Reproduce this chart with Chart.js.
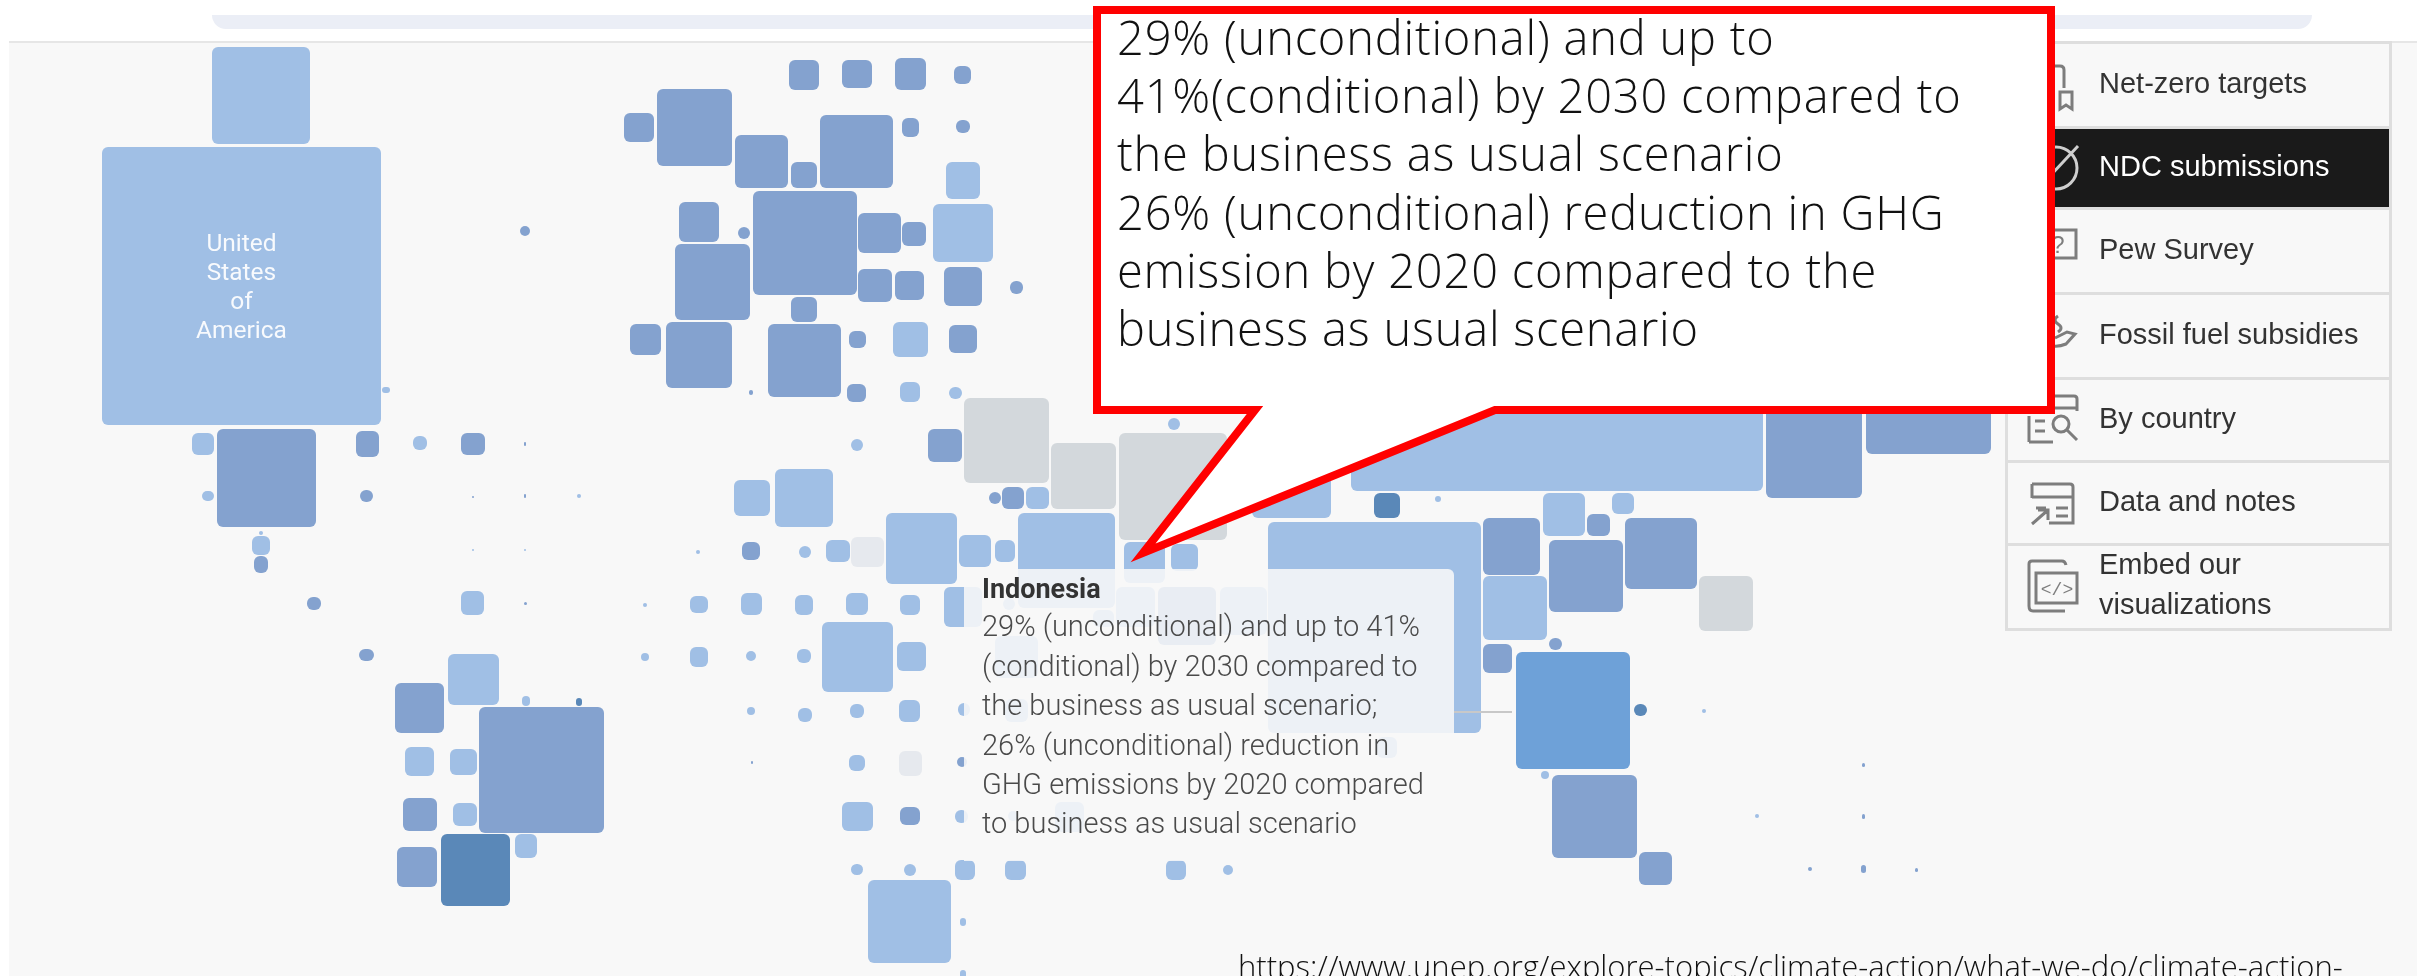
<!DOCTYPE html>
<html>
<head>
<meta charset="utf-8">
<title>NDC submissions</title>
<script src="https://cdn.jsdelivr.net/npm/chart.js@4"></script>
<style>
  html, body { margin: 0; padding: 0; background: #fff; }
  #page { position: relative; width: 2417px; height: 976px; overflow: hidden; background: #fff; }
  #panel { position: absolute; left: 9px; top: 41px; width: 2408px; height: 935px; background: #f8f8f8; border-top: 2px solid #e6e6e6; box-sizing: border-box; }
  #searchbar { position: absolute; left: 212px; top: 15px; width: 2100px; height: 14px; background: #ebeef6; border-radius: 0 0 30px 30px; }
  #map { position: absolute; left: 0; top: 0; }
  .us-label { position: absolute; left: 102px; top: 228px; width: 279px; text-align: center; font: 24.5px/29px Roboto, sans-serif; color: rgba(255,255,255,.92); }
  #tooltip { position: absolute; left: 964px; top: 569px; width: 490px; height: 292px; background: rgba(248,248,248,.87); border-radius: 0 6px 0 0; }
  #tooltip-line { position: absolute; left: 1454px; top: 711px; width: 58px; height: 2px; background: #c8c8c8; }
  #tooltip-text { position: absolute; left: 982px; top: 567px; width: 470px; font: 300 29px/39.4px Roboto, sans-serif; color: #4a4a4a; }
  #tooltip-text b { position: relative; top: 2px; font-weight: 700; color: #333; font-size: 27px; }
  .menu-row { position: absolute; left: 2005px; width: 387px; box-sizing: border-box; border: 3px solid #dedede; border-top-width: 3px; }
  .menu-text { position: absolute; left: 2099px; font: 29px/40px "Liberation Sans", Arial, sans-serif; color: #333; white-space: nowrap; }
  #icons { position: absolute; left: 0; top: 0; }
  #callout { position: absolute; left: 0; top: 0; }
  #callout-text { position: absolute; left: 1117px; top: 8px; font: 300 47px/58.2px "Open Sans", sans-serif; letter-spacing: .8px; color: #111; white-space: nowrap; }
  #source { position: absolute; left: 1238px; top: 944px; font: 300 31px/44px "Open Sans", sans-serif; color: #111; white-space: nowrap; }
</style>
</head>
<body>
<div id="page">
  <div id="searchbar"></div>
  <div id="panel"></div>
  <canvas id="map" width="2417" height="976"></canvas>
  <div class="us-label">United<br>States<br>of<br>America</div>

  <div id="menu"></div>
  <svg id="icons" width="2417" height="976" fill="none" stroke="#7d7d7d" stroke-width="3">
    <path d="M2040 66h20q4 0 4 4v18M2050 90h-10"/>
    <path d="M2060 92h12v17l-6-4-6 4z"/>
    <circle cx="2056" cy="168" r="21" stroke="#cfcfcf"/>
    <path d="M2050 176L2078 146" stroke="#cfcfcf"/>
    <path d="M2040 230h36v28h-28l-8 6z"/>
    <text x="2058" y="253" font-family="Liberation Sans" font-size="24" fill="#7d7d7d" stroke="none" text-anchor="middle">?</text>
    <path d="M2040 340q12 10 26 4l9-10-8-2-12 6M2058 316q-6 4 0 8t0 8"/>
    <path d="M2029 442V416M2029 442h24M2036 396h38q3 0 3 3v12M2029 408h48M2035 421h10M2035 431h10"/>
    <circle cx="2061" cy="424" r="8"/>
    <path d="M2067 430l10 10"/>
    <path d="M2032 484h38q3 0 3 3v36h-24M2032 484v14M2032 497h41M2036 508h10M2056 508h12M2056 516h12M2032 524l16-14M2038 510h10v10"/>
    <path d="M2029 606V564q0-3 3-3h30q3 0 4 4M2029 606q0 5 4 5h32"/>
    <rect x="2036" y="573" width="41" height="30"/>
    <text x="2057" y="595" font-family="Liberation Mono" font-size="18" fill="#7d7d7d" stroke="none" text-anchor="middle">&lt;/&gt;</text>
  </svg>

  <div id="tooltip"></div>
  <div id="tooltip-line"></div>
  <div id="tooltip-text"><b>Indonesia</b><br>29% (unconditional) and up to 41%<br>(conditional) by 2030 compared to<br>the business as usual scenario;<br>26% (unconditional) reduction in<br>GHG emissions by 2020 compared<br>to business as usual scenario</div>

  <svg id="callout" width="2417" height="976">
    <path d="M1097 10H2051V410H1495L1143 553L1255 410H1097Z" fill="#fff" stroke="#ff0000" stroke-width="8" stroke-miterlimit="10"/>
  </svg>
  <div id="callout-text">29% (unconditional) and up to<br>41%(conditional) by 2030 compared to<br>the business as usual scenario<br>26% (unconditional) reduction in GHG<br>emission by 2020 compared to the<br>business as usual scenario</div>
  <div id="source">https://www.unep.org/explore-topics/climate-action/what-we-do/climate-action-</div>
</div>

<script>
// each box: left, right, top, bottom in cartogram units
let lightBoxes = [
  [212,310,47,144], [102,381,147,425], [382,390,387,393], [192,214,433,455], [413,427,436,450],
  [202,214,491,501], [577,581,494,498], [259,263,531,535], [252,270,536,555], [472,474,549,551],
  [524,526,549,551], [461,484,591,615], [448,499,654,705], [522,530,696,706], [405,434,747,776],
  [450,477,749,775], [453,477,803,826], [515,537,834,858],
  [946,980,162,199], [933,993,204,262], [893,928,322,357], [900,920,382,402], [949,962,387,399],
  [851,863,439,451], [734,770,480,516], [775,833,469,527], [1026,1049,487,509], [1168,1180,418,430],
  [886,957,513,584], [959,991,535,567], [995,1015,540,562], [1018,1115,513,608], [1124,1165,542,583],
  [1171,1198,544,571], [1252,1331,439,518], [1351,1763,79,491], [696,700,550,554], [799,811,546,558],
  [826,850,540,562], [643,647,603,607], [690,708,596,613], [741,762,593,615], [795,813,595,615],
  [846,868,593,615], [900,920,595,615], [944,982,587,627], [641,649,653,661], [690,708,647,667],
  [746,756,651,661], [797,811,649,663], [822,893,622,692], [897,926,642,671], [747,755,707,715],
  [798,812,708,722], [850,864,704,718], [899,920,700,722], [958,970,703,716], [849,865,755,771],
  [842,873,802,831], [955,968,810,823], [851,863,864,875], [904,916,864,876], [955,975,860,880],
  [1005,1026,860,880], [1166,1186,860,880], [1223,1233,865,875], [868,951,880,963], [960,966,918,926],
  [960,966,970,980], [1116,1155,587,627], [1220,1267,587,635], [995,1038,636,678], [1093,1114,610,627],
  [1003,1015,598,610], [1005,1028,699,722], [1055,1084,802,832], [1008,1018,811,821], [1377,1397,737,758],
  [1268,1481,522,733], [1435,1441,496,502], [1543,1585,493,536], [1612,1634,493,514], [1483,1547,576,640],
  [1541,1549,771,779], [1702,1706,709,713], [1755,1759,814,818]
];
let mediumBoxes = [
  [217,316,429,527], [356,379,431,457], [461,485,433,455], [520,530,226,236], [524,526,442,446],
  [360,373,490,502], [472,474,496,498], [524,526,494,498], [254,268,556,573], [307,321,597,610],
  [524,527,602,605], [359,374,649,661], [395,444,683,733], [479,604,707,833], [403,437,798,831], [397,437,847,887],
  [789,819,60,90], [842,872,60,88], [895,926,58,90], [954,971,66,84], [657,732,89,166], [624,654,113,142],
  [735,788,135,188], [791,817,162,188], [820,893,115,188], [902,919,118,137], [956,970,120,133],
  [679,719,202,242], [738,750,227,239], [753,857,191,295], [858,901,213,253], [902,926,222,246],
  [675,750,244,320], [858,892,269,302], [895,924,271,300], [944,982,267,306], [1010,1023,281,294],
  [791,817,297,322], [630,661,324,355], [666,732,322,388], [768,841,324,397], [849,866,331,348],
  [949,977,325,353], [749,753,390,395], [847,866,384,402], [928,962,429,462], [989,1001,492,504],
  [1002,1024,487,509], [742,760,542,560], [751,753,761,764], [957,967,757,767], [900,920,807,825],
  [1158,1216,587,645], [1766,1862,402,498], [1866,1991,329,454], [1587,1610,514,536], [1483,1540,518,575],
  [1625,1697,518,589], [1549,1623,540,612], [1483,1512,644,673], [1549,1562,638,650], [1552,1637,775,858],
  [1639,1672,852,885], [1862,1865,763,767], [1862,1865,814,819], [1808,1812,867,871], [1861,1866,865,873],
  [1915,1918,868,872]
];
let darkBoxes = [
  [576,582,698,706], [441,510,834,906], [1374,1400,493,518], [1634,1647,704,716]
];
let brightBoxes = [
  [1516,1630,652,769]
];
let greyBoxes = [
  [964,1049,398,483], [1051,1116,443,509], [1119,1227,433,540], [1699,1753,576,631]
];
let paleBoxes = [
  [851,884,537,567], [899,922,751,776]
];

let menuLabels = ['Net-zero targets', 'NDC submissions', 'Pew Survey', 'Fossil fuel subsidies', 'By country', 'Data and notes'];
let menuRows = [41, 126, 207, 292, 377, 460, 543];

function renderMenu(){
  let html = '';
  for (let i = 0; i < menuRows.length - 1; i++) {
    let top = menuRows[i];
    let height = menuRows[i + 1] - top + 3;
    let active = i == 1;
    html += `<div class="menu-row" style="top:${top}px;height:${height}px;${active ? 'background:#1a1a1a;' : ''}"></div>`;
    html += `<div class="menu-text" style="top:${top + height / 2 - 22}px;${active ? 'color:#fff;' : ''}">${menuLabels[i]}</div>`;
  }
  html += `<div class="menu-row" style="top:543px;height:88px;"></div>`;
  html += `<div class="menu-text" style="top:544px;">Embed our</div>`;
  html += `<div class="menu-text" style="top:584px;">visualizations</div>`;
  document.getElementById('menu').innerHTML = html;
}

function makeTile(width, height, color){
  let tile = document.createElement('canvas');
  tile.width = Math.max(2, Math.round(width));
  tile.height = Math.max(2, Math.round(height));
  let ctx = tile.getContext('2d');
  ctx.fillStyle = color;
  ctx.beginPath();
  ctx.roundRect(0, 0, tile.width, tile.height, Math.min(6, Math.min(tile.width, tile.height) / 2));
  ctx.fill();
  return tile;
}

function boxDataset(boxes, color){
  return {
    data: boxes.map(b => ({ x: (b[0] + b[1]) / 2, y: (b[2] + b[3]) / 2, w: b[1] - b[0], h: b[3] - b[2] })),
    pointStyle: function(context){
      let raw = context.raw;
      if (!raw) return 'rect';
      let xScale = context.chart.scales.x;
      let yScale = context.chart.scales.y;
      let width = Math.abs(xScale.getPixelForValue(raw.w) - xScale.getPixelForValue(0));
      let height = Math.abs(yScale.getPixelForValue(raw.h) - yScale.getPixelForValue(0));
      return makeTile(width, height, color);
    },
    backgroundColor: color,
    borderWidth: 0,
    clip: false
  };
}

function renderChart(){
  new Chart(document.getElementById('map'), {
    type: 'scatter',
    data: {
      datasets: [
        boxDataset(lightBoxes, '#a0bfe5'),
        boxDataset(mediumBoxes, '#84a2cf'),
        boxDataset(darkBoxes, '#5a88b8'),
        boxDataset(brightBoxes, '#6ea1d8'),
        boxDataset(greyBoxes, '#d3d8dc'),
        boxDataset(paleBoxes, '#e6e9ee')
      ]
    },
    options: {
      responsive: false,
      animation: false,
      layout: { padding: 0, autoPadding: false },
      plugins: { legend: { display: false }, tooltip: { enabled: false } },
      scales: {
        x: { type: 'linear', min: 0, max: 2417, display: false },
        y: { type: 'linear', min: 0, max: 976, reverse: true, display: false }
      }
    }
  });
}

renderMenu();
renderChart();
</script>
</body>
</html>
